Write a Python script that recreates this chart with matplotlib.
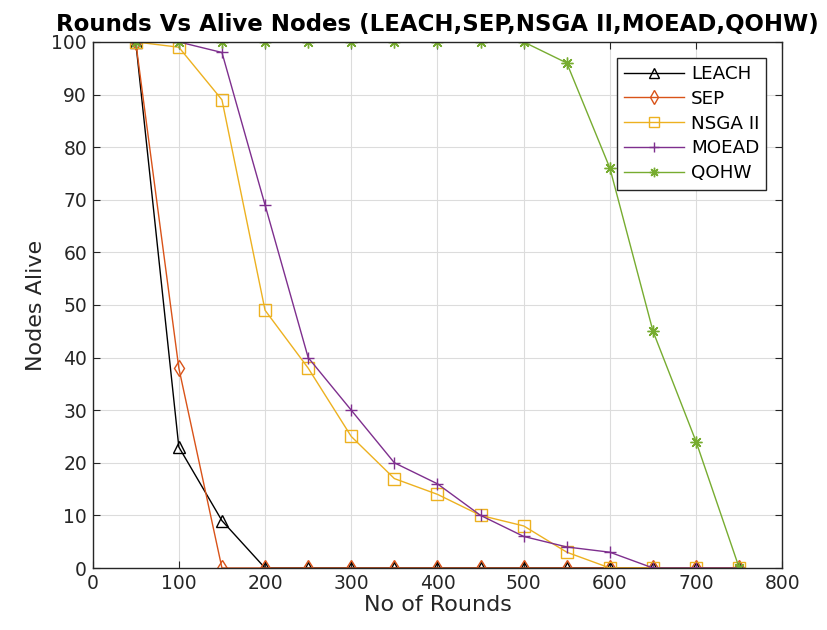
import matplotlib
matplotlib.use("Agg")
import matplotlib.pyplot as plt

rounds = [50, 100, 150, 200, 250, 300, 350, 400, 450, 500, 550, 600, 650, 700, 750]
leach = [100, 23, 9, 0, 0, 0, 0, 0, 0, 0, 0, 0, 0, 0, 0]
sep = [100, 38, 0, 0, 0, 0, 0, 0, 0, 0, 0, 0, 0, 0, 0]
nsga = [100, 99, 89, 49, 38, 25, 17, 14, 10, 8, 3, 0, 0, 0, 0]
moead = [100, 100, 98, 69, 40, 30, 20, 16, 10, 6, 4, 3, 0, 0, 0]
qohw = [100, 100, 100, 100, 100, 100, 100, 100, 100, 100, 96, 76, 45, 24, 0]

labels = ["LEACH", "SEP", "NSGA II", "MOEAD", "QOHW"]
series = [leach, sep, nsga, moead, qohw]
colors = ["#000000", "#D95319", "#EDB120", "#7E2F8E", "#77AC30"]
markers = ["^", "d", "s", "+", (8, 2, 0)]

fig = plt.figure(figsize=(8.27, 6.30), dpi=100)
ax = fig.add_axes([0.112, 0.0984, 0.834, 0.835])

for ys, lab, c, m in zip(series, labels, colors, markers):
    ax.plot(rounds, ys, color=c, marker=m, markersize=8.5, linewidth=1.0,
            markerfacecolor="none", markeredgecolor=c, markeredgewidth=1.0, label=lab)

ax.set_xlim(0, 800)
ax.set_ylim(0, 100)
ax.set_xticks(range(0, 801, 100))
ax.set_yticks(range(0, 101, 10))
ax.grid(True, color="#dcdcdc", linewidth=0.8)
ax.set_axisbelow(True)
ax.tick_params(direction="in", top=True, right=True, labelsize=13.5, length=5,
               color="#262626", labelcolor="#262626", pad=4)
for sp in ax.spines.values():
    sp.set_color("#262626")
    sp.set_linewidth(1.0)
ax.set_xlabel("No of Rounds", fontsize=16, color="#262626", labelpad=2)
ax.set_ylabel("Nodes Alive", fontsize=16, color="#262626", labelpad=4)
ax.set_title("Rounds Vs Alive Nodes (LEACH,SEP,NSGA II,MOEAD,QOHW)", fontsize=16.5,
             fontweight="bold", pad=8)
leg = ax.legend(loc="upper right", bbox_to_anchor=(0.977, 0.97), fontsize=13.2,
                fancybox=False, edgecolor="#262626", framealpha=1, handlelength=3.3,
                handletextpad=0.35, borderaxespad=0.0, labelspacing=0.37, borderpad=0.4,
                markerscale=0.8)
leg.get_frame().set_linewidth(1.0)

fig.savefig("out.png", dpi=100)
